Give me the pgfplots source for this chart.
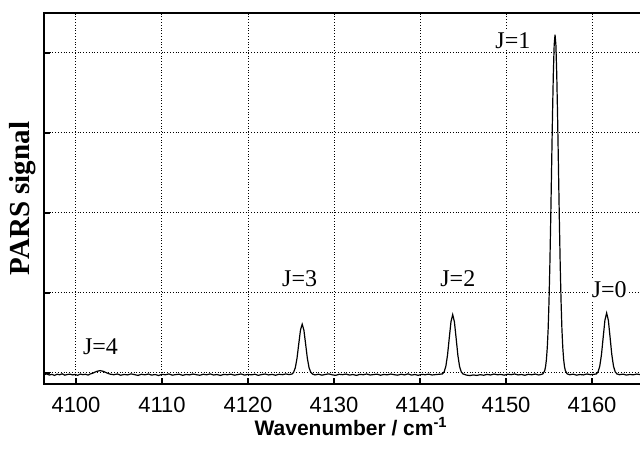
\documentclass[border=0pt]{standalone}
\usepackage{fontspec}
\setmainfont{Liberation Serif}
\newfontfamily\arialfont{Liberation Sans}
\usepackage{pgfplots}
\pgfplotsset{compat=1.18}

\begin{document}
\begin{tikzpicture}
\useasboundingbox (-22pt,-32pt) rectangle (298pt,192pt);
\begin{axis}[
  scale only axis,
  width=304.1pt, height=185.5pt,
  xmin=4096.28, xmax=4167,
  ymin=-0.1375, ymax=4.5,
  axis line style={line width=1.4pt},
  xtick={4100,4110,4120,4130,4140,4150,4160},
  ytick={0,1,2,3,4}, yticklabels={},
  xtick pos=bottom, ytick pos=left,
  tick align=inside,
  major tick length=3.2pt,
  every tick/.style={black, line width=1pt},
  grid=major,
  major grid style={black, densely dotted, line width=0.5pt},
  /pgf/number format/1000 sep={},
  /pgf/number format/assume math mode=true,
  xticklabel style={font=\arialfont\fontsize{11}{12}\selectfont, yshift=-3pt},
  xlabel={\arialfont\bfseries Wavenumber / cm\textsuperscript{-1}},
  every axis x label/.style={at={(axis description cs:0.505,0)}, anchor=base, yshift=-25.5pt, font=\fontsize{10.5}{12}\selectfont},
  ylabel={PARS signal},
  every axis y label/.style={at={(axis description cs:-0.0345,0.5)}, rotate=90, anchor=center, font=\bfseries\fontsize{14.5}{16}\selectfont},
  clip=false,
]
\addplot[black, line width=0.6pt] coordinates {
(4096.3,-0.020)(4096.6,-0.012)(4096.9,-0.025)(4097.2,-0.017)(4097.5,-0.030)(4097.8,-0.015)
(4098.1,-0.022)(4098.4,-0.010)(4098.7,-0.027)(4099.0,-0.019)(4099.3,-0.014)(4099.6,-0.024)
(4099.9,-0.018)(4100.2,-0.029)(4100.5,-0.013)(4100.8,-0.021)(4101.1,-0.016)(4101.4,-0.026)
(4101.6,-0.015)(4102.0,0.000)(4102.4,0.020)(4102.8,0.030)(4103.2,0.020)(4103.6,0.000)(4104.0,-0.015)
(4104.4,-0.022)(4104.8,-0.012)(4105.2,-0.028)(4105.6,-0.018)(4106.0,-0.024)(4106.4,-0.011)
(4106.8,-0.020)(4107.2,-0.030)(4107.6,-0.016)(4108.0,-0.023)(4108.4,-0.013)(4108.8,-0.026)
(4109.2,-0.019)(4109.6,-0.031)(4110.0,-0.017)(4110.4,-0.022)(4110.8,-0.012)(4111.2,-0.027)
(4111.6,-0.020)(4112.0,-0.015)(4112.4,-0.029)(4112.8,-0.018)(4113.2,-0.024)(4113.6,-0.013)
(4114.0,-0.021)(4114.4,-0.028)(4114.8,-0.016)(4115.2,-0.023)(4115.6,-0.011)(4116.0,-0.025)
(4116.4,-0.019)(4116.8,-0.030)(4117.2,-0.017)(4117.6,-0.022)(4118.0,-0.014)(4118.4,-0.027)
(4118.8,-0.020)(4119.2,-0.012)(4119.6,-0.026)(4120.0,-0.018)(4120.4,-0.023)(4120.8,-0.015)
(4121.2,-0.029)(4121.6,-0.019)(4122.0,-0.013)(4122.4,-0.024)(4122.8,-0.017)(4123.2,-0.028)
(4123.6,-0.016)(4124.0,-0.021)(4124.4,-0.012)(4124.8,-0.020)
(4125.1,-0.013)(4125.3,0.008)(4125.5,0.065)(4125.7,0.185)(4125.9,0.362)(4126.1,0.536)
(4126.3,0.610)(4126.5,0.536)(4126.7,0.362)(4126.9,0.185)(4127.1,0.065)(4127.3,0.008)(4127.5,-0.013)
(4127.8,-0.024)(4128.2,-0.015)(4128.6,-0.027)(4129.0,-0.018)(4129.4,-0.011)(4129.8,-0.023)
(4130.2,-0.029)(4130.6,-0.016)(4131.0,-0.021)(4131.4,-0.013)(4131.8,-0.026)(4132.2,-0.019)
(4132.6,-0.030)(4133.0,-0.017)(4133.4,-0.022)(4133.8,-0.012)(4134.2,-0.025)(4134.6,-0.020)
(4135.0,-0.014)(4135.4,-0.028)(4135.8,-0.018)(4136.2,-0.023)(4136.6,-0.013)(4137.0,-0.021)
(4137.4,-0.027)(4137.8,-0.016)(4138.2,-0.024)(4138.6,-0.011)(4139.0,-0.026)(4139.4,-0.019)
(4139.8,-0.029)(4140.2,-0.017)(4140.6,-0.022)(4141.0,-0.014)(4141.4,-0.025)(4141.8,-0.020)
(4142.2,-0.016)
(4142.6,-0.012)(4142.8,0.013)(4143.0,0.081)(4143.2,0.224)(4143.4,0.435)(4143.6,0.640)
(4143.8,0.730)(4144.0,0.640)(4144.2,0.435)(4144.4,0.224)(4144.6,0.081)(4144.8,0.013)(4145.0,-0.012)
(4145.4,-0.026)(4145.8,-0.032)(4146.2,-0.024)(4146.6,-0.030)(4147.0,-0.021)(4147.4,-0.028)
(4147.8,-0.017)(4148.2,-0.025)(4148.6,-0.013)(4149.0,-0.022)(4149.4,-0.018)(4149.8,-0.027)
(4150.2,-0.015)(4150.6,-0.021)(4151.0,-0.012)(4151.4,-0.024)(4151.8,-0.019)(4152.2,-0.028)
(4152.6,-0.016)(4153.0,-0.022)(4153.4,-0.013)(4153.8,-0.025)(4154.1,-0.018)
(4154.3,-0.010)(4154.5,0.030)(4154.6,0.080)(4154.7,0.170)(4154.8,0.320)(4154.9,0.550)
(4155.0,0.900)(4155.1,1.360)(4155.2,1.930)(4155.3,2.560)(4155.4,3.190)(4155.5,3.730)
(4155.6,4.100)(4155.7,4.230)(4155.8,4.100)(4155.9,3.730)(4156.0,3.190)(4156.1,2.560)
(4156.2,1.930)(4156.3,1.360)(4156.4,0.900)(4156.5,0.550)(4156.6,0.320)(4156.7,0.170)
(4156.8,0.080)(4156.9,0.030)(4157.1,-0.010)
(4157.4,-0.022)(4157.8,-0.014)(4158.2,-0.027)(4158.6,-0.019)(4159.0,-0.024)(4159.4,-0.012)
(4159.8,-0.021)(4160.2,-0.017)
(4160.5,-0.012)(4160.7,0.014)(4160.9,0.084)(4161.1,0.230)(4161.3,0.447)(4161.5,0.659)
(4161.7,0.750)(4161.9,0.659)(4162.1,0.447)(4162.3,0.230)(4162.5,0.084)(4162.7,0.014)(4162.9,-0.012)
(4163.2,-0.021)(4163.6,-0.014)(4164.0,-0.026)(4164.4,-0.018)(4164.8,-0.023)(4165.2,-0.013)
(4165.6,-0.020)(4166.0,-0.016)(4166.4,-0.024)(4166.8,-0.018)
};
\node[font=\fontsize{12}{14}\selectfont, fill=white, inner sep=1pt] at (axis cs:4150.8,4.16) {J=1};
\node[font=\fontsize{12}{14}\selectfont, fill=white, inner sep=1pt] at (axis cs:4162.0,1.04) {J=0};
\node[font=\fontsize{12}{14}\selectfont, fill=white, inner sep=1pt] at (axis cs:4144.4,1.175) {J=2};
\node[font=\fontsize{12}{14}\selectfont, fill=white, inner sep=1pt] at (axis cs:4126.0,1.18) {J=3};
\node[font=\fontsize{12}{14}\selectfont, fill=white, inner sep=1pt] at (axis cs:4102.85,0.33) {J=4};
\end{axis}
\end{tikzpicture}
\end{document}
